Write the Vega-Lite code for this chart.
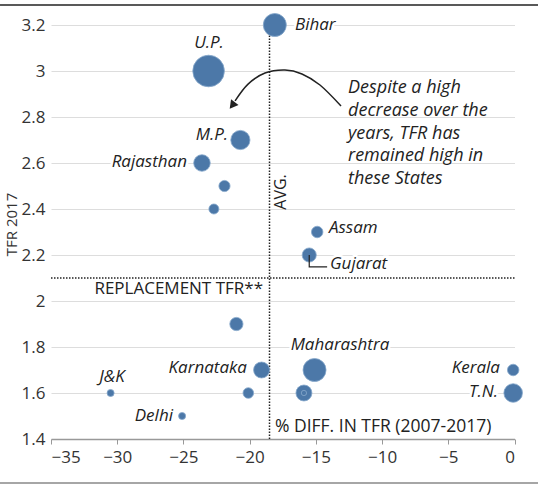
{
  "$schema": "https://vega.github.io/schema/vega-lite/v6.json",
  "width": 463.5,
  "height": 414,
  "autosize": {"type": "none"},
  "padding": {"left": 51, "top": 25, "right": 23.5, "bottom": 48},
  "background": "white",
  "config": {
    "view": {"stroke": null},
    "font": "Open Sans",
    "axisX": {
      "domainColor": "#999", "domainWidth": 1.5, "tickColor": "#999", "tickSize": 5,
      "labelFontSize": 17, "labelColor": "#333", "labelPadding": 5, "grid": false
    },
    "axisY": {
      "domain": false, "ticks": false, "grid": true, "gridColor": "#dddddd", "gridWidth": 1.2,
      "labelFontSize": 17, "labelColor": "#333", "labelPadding": 6,
      "titleFontSize": 15, "titleFontWeight": "normal", "titleColor": "#333",
      "titleX": -35, "titleY": 199, "titleAlign": "center", "titleBaseline": "alphabetic", "titleAngle": -90
    }
  },
  "datasets": {
    "points": [
      {"name": "U.P.", "x": -23.1, "y": 3.0, "pop": 200},
      {"name": "Bihar", "x": -18.1, "y": 3.2, "pop": 106},
      {"name": "Maharashtra", "x": -15.1, "y": 1.7, "pop": 106},
      {"name": "M.P.", "x": -20.7, "y": 2.7, "pop": 74},
      {"name": "T.N.", "x": -0.1, "y": 1.6, "pop": 69},
      {"name": "Rajasthan", "x": -23.6, "y": 2.6, "pop": 55},
      {"name": "Karnataka", "x": -19.1, "y": 1.7, "pop": 51},
      {"name": "", "x": -15.9, "y": 1.6, "pop": 51},
      {"name": "Gujarat", "x": -15.5, "y": 2.2, "pop": 40},
      {"name": "", "x": -21.0, "y": 1.9, "pop": 35},
      {"name": "Assam", "x": -14.9, "y": 2.3, "pop": 26.5},
      {"name": "Kerala", "x": -0.1, "y": 1.7, "pop": 26.5},
      {"name": "", "x": -21.9, "y": 2.5, "pop": 25},
      {"name": "", "x": -20.1, "y": 1.6, "pop": 22.6},
      {"name": "", "x": -22.7, "y": 2.4, "pop": 20},
      {"name": "J&K", "x": -30.5, "y": 1.6, "pop": 10},
      {"name": "Delhi", "x": -25.1, "y": 1.5, "pop": 10},
      {"name": "", "x": -15.9, "y": 1.6, "pop": 5.6}
    ],
    "labL": [
      {"t": "Bihar", "x": -16.58, "y": 3.2},
      {"t": "Assam", "x": -14.01, "y": 2.317},
      {"t": "Gujarat", "x": -13.93, "y": 2.161}
    ],
    "labR": [
      {"t": "M.P.", "x": -21.63, "y": 2.722},
      {"t": "Rajasthan", "x": -24.73, "y": 2.604},
      {"t": "Karnataka", "x": -20.2, "y": 1.709},
      {"t": "Delhi", "x": -25.79, "y": 1.5},
      {"t": "Kerala", "x": -1.1, "y": 1.709},
      {"t": "T.N.", "x": -1.25, "y": 1.604}
    ],
    "labC": [
      {"t": "U.P.", "x": -23.07, "y": 3.122},
      {"t": "Maharashtra", "x": -13.18, "y": 1.809},
      {"t": "J&K", "x": -30.39, "y": 1.67}
    ]
  },
  "encoding": {
    "x": {"field": "x", "type": "quantitative", "scale": {"domain": [-35, 0], "nice": false, "zero": false}, "title": null,
      "axis": {"values": [-35, -30, -25, -20, -15, -10, -5, 0], "format": "~g"}},
    "y": {"field": "y", "type": "quantitative", "scale": {"domain": [1.4, 3.2], "nice": false, "zero": false}, "title": "TFR 2017",
      "axis": {"values": [1.4, 1.6, 1.8, 2, 2.2, 2.4, 2.6, 2.8, 3, 3.2], "format": "~g"}}
  },
  "layer": [
    {
      "data": {"values": [{"x": -38.85, "x2": 1.78, "y": 3.287}]},
      "mark": {"type": "rule", "color": "#222", "strokeWidth": 1.5},
      "encoding": {"x2": {"field": "x2"}}
    },
    {
      "data": {"values": [{"x": -38.85, "x2": 1.78, "y": 1.209}]},
      "mark": {"type": "rule", "color": "#888", "strokeWidth": 1.5},
      "encoding": {"x2": {"field": "x2"}}
    },
    {
      "data": {"values": [{"x": -18.5, "y": 1.4, "y2": 3.2}]},
      "mark": {"type": "rule", "color": "#222", "strokeWidth": 1.5, "strokeDash": [1.5, 1.5]},
      "encoding": {"y2": {"field": "y2"}}
    },
    {
      "data": {"values": [{"x": -35, "x2": 0, "y": 2.1}]},
      "mark": {"type": "rule", "color": "#222", "strokeWidth": 1.5, "strokeDash": [1.5, 1.5]},
      "encoding": {"x2": {"field": "x2"}}
    },
    {
      "data": {"name": "points"},
      "mark": {"type": "circle", "color": "#4c78a8", "opacity": 1, "stroke": "#86a8cc", "strokeWidth": 0.8},
      "encoding": {
        "size": {"field": "pop", "type": "quantitative", "scale": {"domain": [0, 200], "range": [0, 1000], "zero": true}, "legend": null}
      }
    },
    {
      "data": {"values": [
        {"i": 1, "x": -15.5, "y": 2.2},
        {"i": 2, "x": -15.5, "y": 2.148},
        {"i": 3, "x": -14.15, "y": 2.148}
      ]},
      "mark": {"type": "line", "color": "#222", "strokeWidth": 1.2},
      "encoding": {"order": {"field": "i", "type": "quantitative"}}
    },
    {
      "data": {"values": [
        {"i": 1, "x": -13.1, "y": 2.848},
        {"i": 2, "x": -14.69, "y": 2.939},
        {"i": 3, "x": -16.05, "y": 2.987},
        {"i": 4, "x": -17.33, "y": 3.004},
        {"i": 5, "x": -18.84, "y": 2.991},
        {"i": 6, "x": -20.12, "y": 2.943},
        {"i": 7, "x": -21.1, "y": 2.87}
      ]},
      "mark": {"type": "line", "color": "#222", "strokeWidth": 1.5, "interpolate": "cardinal"},
      "encoding": {"order": {"field": "i", "type": "quantitative"}}
    },
    {
      "data": {"values": [{"x": -21.25, "y": 2.855}]},
      "mark": {"type": "point", "shape": "triangle", "filled": true, "color": "#222", "opacity": 1, "size": 90, "angle": 218}
    },
    {
      "data": {"name": "labL"},
      "mark": {"type": "text", "align": "left", "baseline": "middle", "fontSize": 17, "fontStyle": "italic", "stroke": "white", "strokeWidth": 5, "color": "white"},
      "encoding": {"text": {"field": "t"}}
    },
    {
      "data": {"name": "labR"},
      "mark": {"type": "text", "align": "right", "baseline": "middle", "fontSize": 17, "fontStyle": "italic", "stroke": "white", "strokeWidth": 5, "color": "white"},
      "encoding": {"text": {"field": "t"}}
    },
    {
      "data": {"name": "labC"},
      "mark": {"type": "text", "align": "center", "baseline": "middle", "fontSize": 17, "fontStyle": "italic", "stroke": "white", "strokeWidth": 5, "color": "white"},
      "encoding": {"text": {"field": "t"}}
    },
    {
      "data": {"name": "labL"},
      "mark": {"type": "text", "align": "left", "baseline": "middle", "fontSize": 17, "fontStyle": "italic", "color": "#222"},
      "encoding": {"text": {"field": "t"}}
    },
    {
      "data": {"name": "labR"},
      "mark": {"type": "text", "align": "right", "baseline": "middle", "fontSize": 17, "fontStyle": "italic", "color": "#222"},
      "encoding": {"text": {"field": "t"}}
    },
    {
      "data": {"name": "labC"},
      "mark": {"type": "text", "align": "center", "baseline": "middle", "fontSize": 17, "fontStyle": "italic", "color": "#222"},
      "encoding": {"text": {"field": "t"}}
    },
    {
      "data": {"values": [{"t": "Despite a high\ndecrease over the\nyears, TFR has\nremained high in\nthese States", "x": -12.57, "y": 2.904}]},
      "mark": {"type": "text", "align": "left", "baseline": "alphabetic", "fontSize": 18, "fontStyle": "italic", "color": "#222", "lineBreak": "\n", "lineHeight": 22.75},
      "encoding": {"text": {"field": "t"}}
    },
    {
      "data": {"values": [{"t": "REPLACEMENT TFR**", "x": -18.99, "y": 2.052}]},
      "mark": {"type": "text", "align": "right", "baseline": "middle", "fontSize": 17, "color": "#222"},
      "encoding": {"text": {"field": "t"}}
    },
    {
      "data": {"values": [{"t": "% DIFF. IN TFR (2007-2017)", "x": -18.09, "y": 1.454}]},
      "mark": {"type": "text", "align": "left", "baseline": "middle", "fontSize": 17.5, "color": "#222"},
      "encoding": {"text": {"field": "t"}}
    },
    {
      "data": {"values": [{"t": "AVG.", "x": -17.63, "y": 2.474}]},
      "mark": {"type": "text", "align": "center", "baseline": "middle", "fontSize": 16, "color": "#222", "angle": 270},
      "encoding": {"text": {"field": "t"}}
    }
  ]
}
